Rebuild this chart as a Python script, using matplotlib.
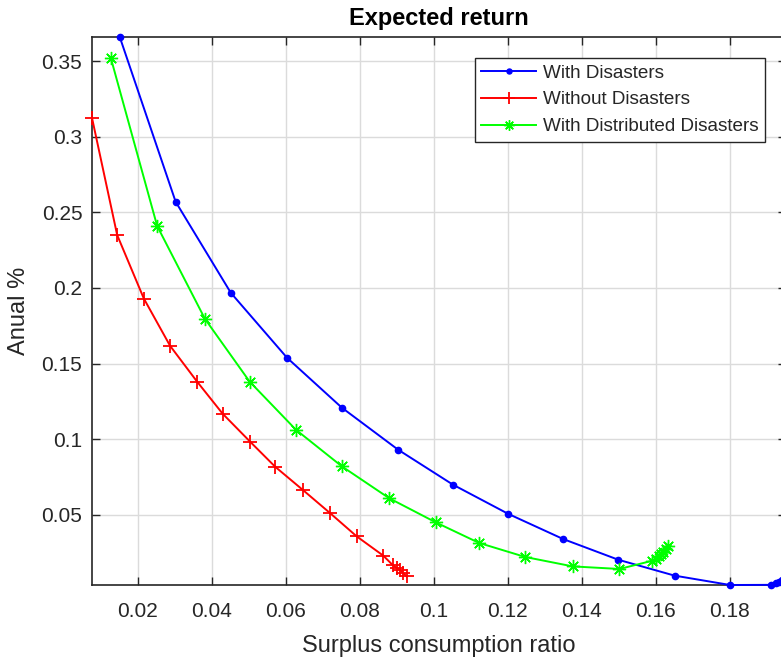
import matplotlib
matplotlib.use("Agg")
import matplotlib.pyplot as plt
from matplotlib.ticker import FuncFormatter

# ---- data ----
with_x = [0.0152, 0.0303, 0.0452, 0.0604, 0.0752, 0.0904, 0.1052, 0.1202, 0.1350,
          0.1499, 0.1651, 0.1801, 0.1912, 0.1925, 0.1933, 0.1940, 0.1946, 0.1951]
with_y = [0.366, 0.257, 0.1968, 0.1538, 0.1208, 0.0930, 0.0699, 0.0505, 0.0339,
          0.0202, 0.0097, 0.0035, 0.0036, 0.0045, 0.0055, 0.0065, 0.0075, 0.0085]

without_x = [0.0077, 0.0145, 0.0217, 0.0288, 0.0361, 0.0430, 0.0505, 0.0572, 0.0648,
             0.0720, 0.0792, 0.0864, 0.0889, 0.0900, 0.0909, 0.0918, 0.0927]
without_y = [0.3125, 0.235, 0.193, 0.1617, 0.138, 0.1168, 0.0981, 0.0817, 0.0661,
             0.0511, 0.0357, 0.0229, 0.0168, 0.0148, 0.0135, 0.0114, 0.0092]

dist_x = [0.0128, 0.0253, 0.0382, 0.0503, 0.0628, 0.0752, 0.0880, 0.1006, 0.1123,
          0.1248, 0.1376, 0.1502, 0.1590, 0.1600, 0.1608, 0.1615, 0.1621, 0.1627, 0.1632]
dist_y = [0.352, 0.241, 0.1796, 0.138, 0.1062, 0.0820, 0.0609, 0.0449, 0.0313,
          0.0220, 0.0158, 0.0141, 0.0195, 0.0210, 0.0225, 0.0240, 0.0255, 0.0275, 0.0295]

labels = ["With Disasters", "Without Disasters", "With Distributed Disasters"]
x_ticks = [0.02, 0.04, 0.06, 0.08, 0.10, 0.12, 0.14, 0.16, 0.18]
y_ticks = [0.05, 0.10, 0.15, 0.20, 0.25, 0.30, 0.35]

plt.rcParams['font.family'] = ['Liberation Sans', 'DejaVu Sans']

fig = plt.figure(figsize=(7.81, 6.58), dpi=100)
W, H = 781, 658
ax = fig.add_axes([92 / W, 1 - 585 / H, (786 - 92) / W, (585 - 37) / H])

dark = (0.15, 0.15, 0.15)
ax.plot(with_x, with_y, color=(0, 0, 1), lw=1.4, marker='.', markersize=9,
        label=labels[0], clip_on=False, zorder=3)
ax.plot(without_x, without_y, color=(1, 0, 0), lw=1.4, marker='+', markersize=10.5,
        markeredgewidth=1.3, label=labels[1], clip_on=False, zorder=3)
ax.plot(dist_x, dist_y, color=(0, 1, 0), lw=1.4, marker=(8, 2, 0), markersize=9.5,
        markeredgewidth=1.0, label=labels[2], clip_on=False, zorder=3)

ax.set_xlim(0.0077, 0.1952)
ax.set_ylim(0.0035, 0.366)
ax.set_xticks(x_ticks)
ax.set_yticks(y_ticks)
fmt = FuncFormatter(lambda v, p: "%g" % round(v, 4))
ax.xaxis.set_major_formatter(fmt)
ax.yaxis.set_major_formatter(fmt)

ax.grid(True, color=(0.86, 0.86, 0.86), lw=1.0)
ax.set_axisbelow(True)
ax.tick_params(direction='in', length=6, width=1, colors=dark, labelsize=15,
               top=True, right=True, labelcolor=dark)
ax.tick_params(axis='x', pad=12)
ax.tick_params(axis='y', pad=7)
for s in ax.spines.values():
    s.set_color(dark)
    s.set_linewidth(1.2)

ax.set_title("Expected return", fontsize=17, fontweight='bold', color='black', pad=9)
ax.set_xlabel("Surplus consumption ratio", fontsize=17, color=dark, labelpad=10)
ax.set_ylabel("Anual %", fontsize=17, color=dark, labelpad=8)

leg = ax.legend(loc='upper right', bbox_to_anchor=(765 / W, 1 - 58 / H),
                bbox_transform=fig.transFigure, fontsize=13.6, frameon=True,
                fancybox=False, edgecolor=dark, framealpha=1, borderpad=0.35,
                labelspacing=0.5, handlelength=2.9, handletextpad=0.35,
                borderaxespad=0, markerscale=0.8)
leg.get_frame().set_linewidth(1.0)
for t in leg.get_texts():
    t.set_color(dark)

fig.savefig("out.png", dpi=100)
